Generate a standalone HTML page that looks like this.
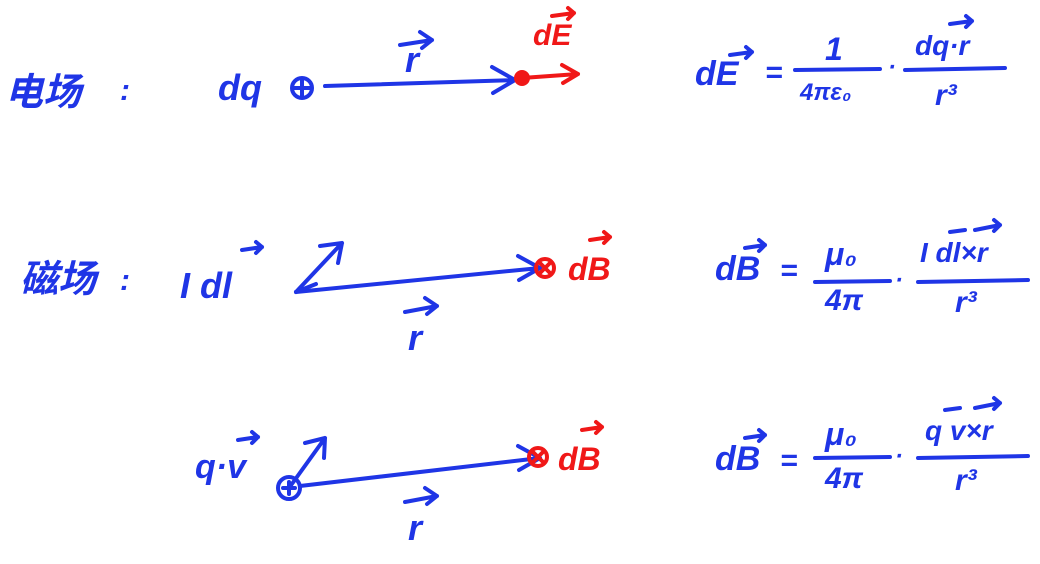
<!DOCTYPE html>
<html><head><meta charset="utf-8"><style>
html,body{margin:0;padding:0;background:#fff;}
svg{display:block}
text{font-family:"Liberation Sans","Noto Sans CJK SC",sans-serif;font-weight:bold;font-style:italic}
</style></head><body>
<svg width="1040" height="564" viewBox="0 0 1040 564" xmlns="http://www.w3.org/2000/svg">
<g fill="none" stroke="#1f35e6" stroke-width="4" stroke-linecap="round" stroke-linejoin="round">
<circle cx="302" cy="88" r="10"/><path d="M294 88h16M302 80v16"/>
<path d="M325 86 L515 80 M492 67 L515 80 L493 93"/>
<path d="M400 45 L432 40 M420 32 L432 40 L422 48"/>
<path d="M296 292 L540 268 M518 256 L540 268 L519 280"/>
<path d="M296 292 L342 243 M320 246 L342 243 L338 263"/>
<path d="M296 292 L316 284"/>
<path d="M405 312 L437 306 M425 298 L437 306 L427 314"/>
<circle cx="289" cy="488" r="11"/><path d="M283 488h12M289 482v12"/>
<path d="M300 486 L540 458 M518 446 L540 458 L519 470"/>
<path d="M289 488 L325 438 M305 443 L325 438 L324 458"/>
<path d="M405 502 L437 496 M425 488 L437 496 L427 504"/>
<path d="M795 70 L880 69 M905 70 L1005 68"/>
<path d="M815 282 L890 281 M918 282 L1028 280"/>
<path d="M815 458 L890 457 M918 458 L1028 456"/>
<path d="M730 55 L752 52 M746 47 L752 52 L746 58"/>
<path d="M745 248 L765 245 M759 240 L765 245 L759 251"/>
<path d="M745 438 L765 435 M759 430 L765 435 L759 441"/>
<path d="M950 24 L972 21 M966 16 L972 21 L966 27"/>
<path d="M975 230 L1000 225 M994 220 L1000 225 L994 231 M950 232 L965 230"/>
<path d="M975 408 L1000 403 M994 398 L1000 403 L994 409 M945 410 L960 408"/>
<path d="M238 440 L258 437 M252 432 L258 437 L252 443"/>
<path d="M242 250 L262 247 M256 242 L262 247 L256 253"/>
</g>
<g fill="#1f35e6">
<text x="5" y="105" font-size="38">电场</text><text x="120" y="100" font-size="30">:</text>
<text x="218" y="100" font-size="36">dq</text>
<text x="405" y="72" font-size="36">r</text>
<text x="695" y="85" font-size="34">dE</text><text x="765" y="82" font-size="30">=</text>
<text x="825" y="60" font-size="32">1</text>
<text x="800" y="100" font-size="24">4πε₀</text>
<text x="888" y="75" font-size="24">·</text>
<text x="915" y="55" font-size="28">dq·r</text>
<text x="935" y="105" font-size="30">r³</text>

<text x="20" y="292" font-size="38">磁场</text><text x="120" y="290" font-size="30">:</text>
<text x="180" y="298" font-size="36">I dl</text>
<text x="408" y="350" font-size="36">r</text>
<text x="715" y="280" font-size="34">dB</text><text x="780" y="280" font-size="30">=</text>
<text x="825" y="265" font-size="32">μ₀</text>
<text x="825" y="310" font-size="30">4π</text>
<text x="895" y="288" font-size="24">·</text>
<text x="920" y="262" font-size="28">I dl×r</text>
<text x="955" y="312" font-size="30">r³</text>

<text x="195" y="478" font-size="34">q·v</text>
<text x="408" y="540" font-size="36">r</text>
<text x="715" y="470" font-size="34">dB</text><text x="780" y="470" font-size="30">=</text>
<text x="825" y="445" font-size="32">μ₀</text>
<text x="825" y="488" font-size="30">4π</text>
<text x="895" y="464" font-size="24">·</text>
<text x="925" y="440" font-size="28">q v×r</text>
<text x="955" y="490" font-size="30">r³</text>
</g>
<g fill="none" stroke="#f01818" stroke-width="4" stroke-linecap="round" stroke-linejoin="round">
<path d="M522 78 L578 74 M562 65 L578 74 L563 83"/>
<path d="M552 16 L574 13 M568 8 L574 13 L568 19"/>
<circle cx="545" cy="268" r="9"/><path d="M539 262l12 12M551 262l-12 12"/>
<circle cx="538" cy="457" r="9"/><path d="M532 451l12 12M544 451l-12 12"/>
<path d="M590 240 L610 237 M604 232 L610 237 L604 243"/>
<path d="M582 430 L602 427 M596 422 L602 427 L596 433"/>
</g>
<circle cx="522" cy="78" r="8" fill="#f01818"/>
<g fill="#f01818">
<text x="533" y="45" font-size="30">dE</text>
<text x="568" y="280" font-size="32">dB</text>
<text x="558" y="470" font-size="32">dB</text>
</g>
</svg>
</body></html>
